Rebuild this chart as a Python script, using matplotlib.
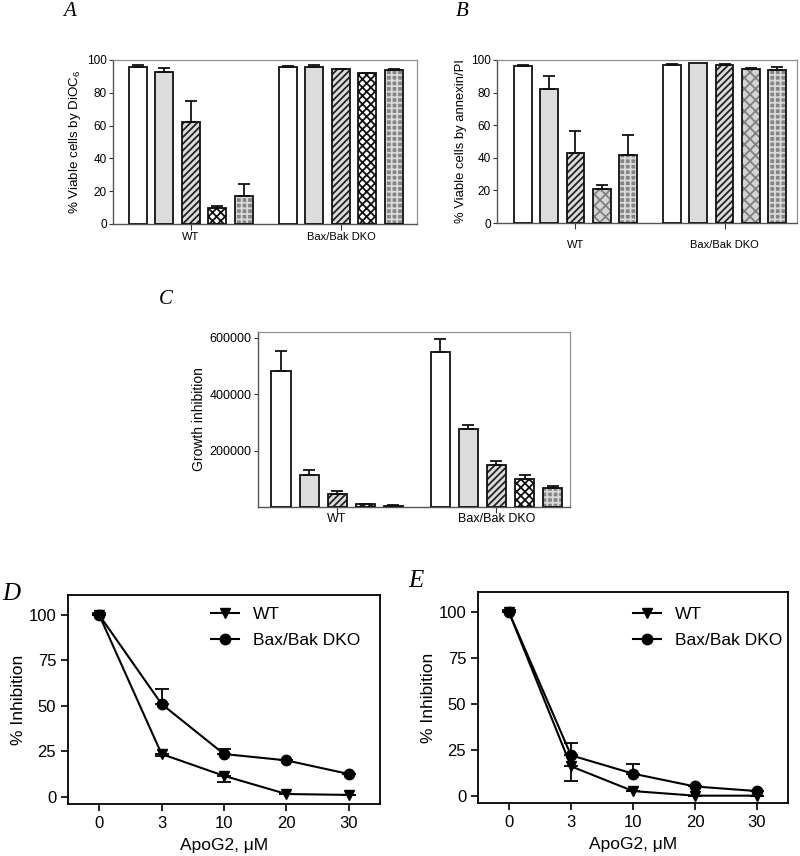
import matplotlib
matplotlib.use("Agg")
import matplotlib.pyplot as plt
import numpy as np

plt.rcParams['font.family'] = ['Liberation Sans', 'DejaVu Sans']
plt.rcParams['mathtext.default'] = 'regular'
plt.rcParams['hatch.linewidth'] = 1.3

# ---------------- data ----------------
groups = ["WT", "Bax/Bak DKO"]

# Panel A: % viable cells by DiOC6
a_wt = [96, 92.5, 62, 10, 17]
a_wt_err = [1, 2.5, 13, 1, 7.5]
a_dko = [95.5, 95.5, 94.5, 92, 94]
a_dko_err = [1, 1.5, 0.3, 0.3, 0.3]

# Panel B: % viable cells by annexin/PI
b_wt = [96.5, 82, 43, 21, 42]
b_wt_err = [0.5, 8, 13.5, 2.5, 12]
b_dko = [97, 98, 97, 94.5, 94]
b_dko_err = [0.7, 0, 0.5, 0.3, 1.5]

# Panel C: growth inhibition
c_wt = [483000, 114000, 46000, 10000, 5000]
c_wt_err = [68000, 18000, 12000, 2000, 1000]
c_dko = [549000, 275000, 148000, 100000, 66000]
c_dko_err = [46000, 17000, 16000, 12000, 9000]

# Panels D & E: % inhibition vs ApoG2
doses = ["0", "3", "10", "20", "30"]
d_wt = [100, 23.5, 11.5, 1.5, 1]
d_wt_err = [0, 1, 3.5, 0, 0]
d_dko = [100, 51, 23.5, 20, 12.5]
d_dko_err = [1, 8.5, 3, 0, 0]
e_wt = [100, 16, 2.5, 0, 0]
e_wt_err = [0, 8, 0, 0, 0]
e_dko = [100, 22, 12, 5, 2.5]
e_dko_err = [1, 6.5, 5.5, 0, 0]

W, H = 800, 856
fig = plt.figure(figsize=(W / 100, H / 100), dpi=100)


def add_ax(l, r, t, b):
    return fig.add_axes([l / W, 1 - b / H, (r - l) / W, (b - t) / H])


# bar styles: (face, hatch, hatchcolor)
def styles(dark_cross):
    cross = ('white', 'xxxx', '#111111') if dark_cross else ('#d4d4d4', 'xxx', '#808080')
    return [
        ('white', None, None),
        ('#dcdcdc', None, None),
        ('#dcdcdc', '/////', '#222222'),
        cross,
        ('#858585', '+++', '#dadada'),
    ]


def bar_panel(ax, wt, wte, dko, dkoe, offset, xlim, ylim, yticks, ylabel,
              dark_cross, fs_tick, fs_label, fs_group, xpad):
    st = styles(dark_cross)
    width = 0.68
    for g, (vals, errs) in enumerate([(wt, wte), (dko, dkoe)]):
        base = g * offset
        for i, (v, e) in enumerate(zip(vals, errs)):
            x = base + i
            face, hatch, hc = st[i]
            if hatch:
                ax.bar(x, v, width, color=face, hatch=hatch, edgecolor=hc,
                       linewidth=0, zorder=2)
                ax.bar(x, v, width, fill=False, edgecolor='#111111',
                       linewidth=1.3, zorder=3)
            else:
                ax.bar(x, v, width, color=face, edgecolor='#111111',
                       linewidth=1.3, zorder=3)
            if e > 0:
                ax.errorbar(x, v, yerr=[[0], [e]], fmt='none', ecolor='#111111',
                            elinewidth=1.3, capsize=4, capthick=1.3, zorder=4)
    ax.set_xlim(*xlim)
    ax.set_ylim(*ylim)
    ax.set_xticks([2, offset + 2])
    ax.set_xticklabels(groups, fontsize=fs_group)
    ax.set_yticks(yticks)
    ax.tick_params(axis='y', labelsize=fs_tick, direction='out', length=3,
                   width=0.8, color='#333333', pad=1.5)
    ax.tick_params(axis='x', direction='out', length=4, width=0.8,
                   color='#333333', pad=xpad)
    ax.set_ylabel(ylabel, fontsize=fs_label, labelpad=3)
    for s in ['top', 'right']:
        ax.spines[s].set_color('#909090')
        ax.spines[s].set_linewidth(0.9)
    for s in ['left', 'bottom']:
        ax.spines[s].set_color('#555555')
        ax.spines[s].set_linewidth(1.0)


# Panel A
axA = add_ax(113, 417, 60, 224)
bar_panel(axA, a_wt, a_wt_err, a_dko, a_dko_err, 5.66, (-0.94, 10.53),
          (0, 100), [0, 20, 40, 60, 80, 100], r'% Viable cells by DiOC$_6$',
          True, 8.5, 9.6, 8, 2)

# Panel B
axB = add_ax(497, 797, 60, 223)
bar_panel(axB, b_wt, b_wt_err, b_dko, b_dko_err, 5.68, (-0.99, 10.44),
          (0, 100), [0, 20, 40, 60, 80, 100], '% Viable cells by annexin/PI',
          False, 8.5, 9.4, 8, 8)

# Panel C
axC = add_ax(258, 570, 332, 507)
bar_panel(axC, c_wt, c_wt_err, c_dko, c_dko_err, 5.68, (-0.82, 10.3),
          (0, 620000), [200000, 400000, 600000], 'Growth inhibition',
          True, 9, 10, 9, 0.5)
axC.yaxis.set_major_formatter(matplotlib.ticker.FuncFormatter(lambda v, p: f"{int(v)}"))


def line_panel(ax, wt, wte, dko, dkoe, anchor):
    x = np.arange(len(doses))
    ax.plot(x, wt, color='black', lw=1.5, marker='v', ms=7.5, label='WT', zorder=3)
    ax.plot(x, dko, color='black', lw=1.5, marker='o', ms=7.5, label='Bax/Bak DKO', zorder=3)
    ax.errorbar(x, wt, yerr=[wte, [0] * len(x)], fmt='none', ecolor='black',
                elinewidth=1.3, capsize=5, capthick=1.3, zorder=2)
    ax.errorbar(x, dko, yerr=[[0] * len(x), dkoe], fmt='none', ecolor='black',
                elinewidth=1.3, capsize=5, capthick=1.3, zorder=2)
    ax.set_xlim(-0.5, 4.5)
    ax.set_ylim(-4, 111)
    ax.set_xticks(x)
    ax.set_xticklabels(doses)
    ax.set_yticks([0, 25, 50, 75, 100])
    ax.tick_params(labelsize=12, direction='out', length=5, width=1.2)
    for s in ax.spines.values():
        s.set_linewidth(1.3)
    ax.set_xlabel('ApoG2, μM', fontsize=12.5, labelpad=5)
    ax.set_ylabel('% Inhibition', fontsize=12.5, labelpad=2)
    ax.legend(loc='upper right', frameon=False, fontsize=12.5, handlelength=1.6,
              handletextpad=0.8, labelspacing=0.6, borderaxespad=0.3,
              bbox_to_anchor=anchor)


axD = add_ax(68, 380, 595, 804)
line_panel(axD, d_wt, d_wt_err, d_dko, d_dko_err, (0.975, 1.0))
axE = add_ax(478, 788, 592, 803)
line_panel(axE, e_wt, e_wt_err, e_dko, e_dko_err, (1.02, 0.985))

# panel letters
for lbl, x, y, fs in [('A', 70, 12, 15), ('B', 462, 12, 15), ('C', 166, 300, 15),
                      ('D', 11, 594, 18), ('E', 416, 581, 18)]:
    fig.text(x / W, 1 - y / H, lbl, fontsize=fs, style='italic',
             family='Liberation Serif', ha='center', va='center')

fig.savefig('out.png', dpi=100)
